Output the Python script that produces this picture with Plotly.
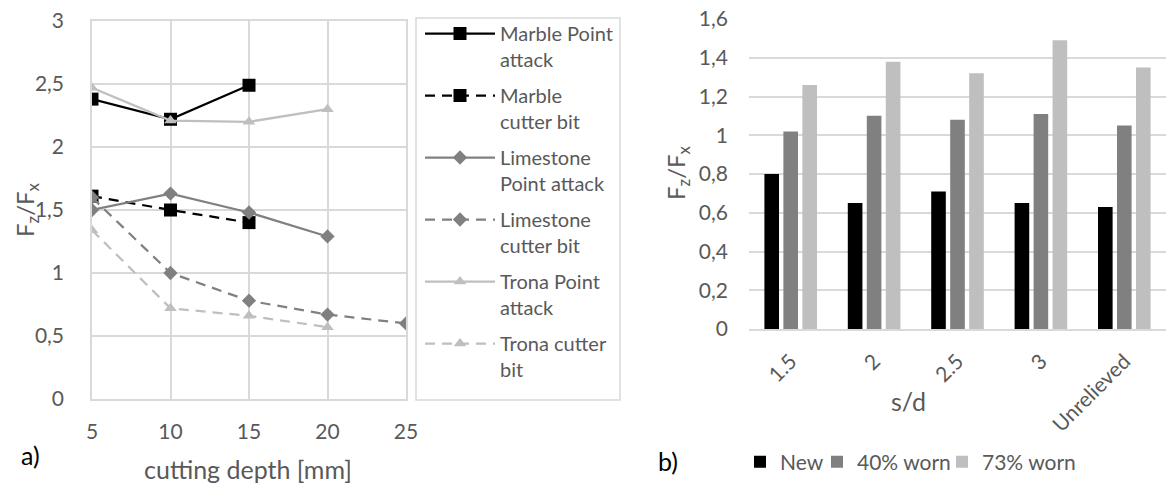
import plotly.graph_objects as go

# ---------------- data: panel a) ----------------
depth_marble = [5, 10, 15]
marble_point = [2.38, 2.22, 2.49]
marble_cutter = [1.61, 1.50, 1.40]
depth_lime_point = [5, 10, 15, 20]
limestone_point = [1.50, 1.63, 1.48, 1.29]
depth_lime_cutter = [5, 10, 15, 20, 25]
limestone_cutter = [1.60, 1.00, 0.78, 0.67, 0.60]
depth_trona = [5, 10, 15, 20]
trona_point = [2.47, 2.21, 2.20, 2.30]
trona_cutter = [1.34, 0.72, 0.66, 0.57]

# ---------------- data: panel b) ----------------
sd_labels = ["1.5", "2", "2.5", "3", "Unrelieved"]
bit_new = [0.80, 0.65, 0.71, 0.65, 0.63]
bit_worn40 = [1.02, 1.10, 1.08, 1.11, 1.05]
bit_worn73 = [1.26, 1.38, 1.32, 1.49, 1.35]

W, H = 1166, 484
FONT = "Lato"
TXT = "#595959"
GRID = "#d9d9d9"
BLACK, DARK, LIGHT = "#000000", "#808080", "#bfbfbf"
DASH = "10px,7px"

def px(x):
    return x / W

def py(y):
    return 1 - y / H

fig = go.Figure()

line_series = [
    ("Marble Point<br>attack", depth_marble, marble_point, BLACK, "solid", "square", 13),
    ("Marble<br>cutter bit", depth_marble, marble_cutter, BLACK, DASH, "square", 13),
    ("Limestone<br>Point attack", depth_lime_point, limestone_point, DARK, "solid", "diamond", 11),
    ("Limestone<br>cutter bit", depth_lime_cutter, limestone_cutter, DARK, DASH, "diamond", 11),
    ("Trona Point<br>attack", depth_trona, trona_point, LIGHT, "solid", "triangle-up", 11),
    ("Trona cutter<br>bit", depth_trona, trona_cutter, LIGHT, DASH, "triangle-up", 11),
]
for i, (name, xs, ys, col, dash, sym, size) in enumerate(line_series):
    fig.add_trace(go.Scatter(
        x=xs, y=ys, name=name, mode="lines+markers",
        line=dict(color=col, width=2.25, dash=dash),
        marker=dict(color=col, symbol=sym, size=size),
        xaxis="x", yaxis="y", legend="legend", legendgroup=f"g{i}",
    ))

for name, vals, col, lw in [("New", bit_new, BLACK, 32), ("40% worn", bit_worn40, DARK, 80),
                            ("73% worn", bit_worn73, LIGHT, 100)]:
    fig.add_trace(go.Bar(
        x=sd_labels, y=vals, name=name, marker=dict(color=col, line=dict(width=0)),
        xaxis="x2", yaxis="y2", legend="legend2", legendwidth=lw,
    ))

axis_common = dict(
    tickfont=dict(family=FONT, size=21, color=TXT),
    zeroline=False, ticks="", automargin=False,
)

def note(text, x, y, size, color=TXT, angle=0):
    return dict(text=text, x=px(x), y=py(y), xref="paper", yref="paper",
                xanchor="center", yanchor="middle", textangle=angle,
                showarrow=False, font=dict(family=FONT, size=size, color=color))

fig.update_layout(
    template="none",
    width=W, height=H,
    margin=dict(l=0, r=0, t=0, b=0, autoexpand=False),
    paper_bgcolor="white", plot_bgcolor="white",
    separators=", ",
    font=dict(family=FONT, color=TXT),
    barmode="group", bargap=0.317, bargroupgap=0.23,
    xaxis=dict(
        domain=[px(92), px(406)], range=[5, 25], tick0=5, dtick=5,
        showgrid=True, gridcolor=GRID, gridwidth=1.5,
        showline=True, mirror=True, linecolor=GRID, linewidth=1.5,
        anchor="y", ticklabelstandoff=13, **axis_common,
    ),
    yaxis=dict(
        domain=[py(399), py(21)], range=[0, 3], tick0=0, dtick=0.5,
        showgrid=True, gridcolor=GRID, gridwidth=1.5,
        showline=True, mirror=True, linecolor=GRID, linewidth=1.5,
        anchor="x", ticklabelstandoff=22, **axis_common,
    ),
    xaxis2=dict(
        domain=[px(749), 1.0], type="category",
        showgrid=False, showline=True, linecolor=GRID, linewidth=1.5,
        tickangle=-45, anchor="y2", ticklabelstandoff=10, **axis_common,
    ),
    yaxis2=dict(
        domain=[py(329), py(19)], range=[0, 1.6], tick0=0, dtick=0.2,
        showgrid=True, gridcolor=GRID, gridwidth=1.5, showline=False,
        anchor="x2", ticklabelstandoff=20, **axis_common,
    ),
    legend=dict(
        x=px(420), y=py(14), xanchor="left", yanchor="top",
        bgcolor="rgba(0,0,0,0)", borderwidth=0,
        font=dict(family=FONT, size=20, color=TXT),
        tracegroupgap=7, valign="top", itemwidth=70,
    ),
    legend2=dict(
        orientation="h", x=px(740), y=py(462), xanchor="left", yanchor="middle",
        bgcolor="rgba(0,0,0,0)", borderwidth=0,
        font=dict(family=FONT, size=21, color=TXT),
        itemwidth=30,
    ),
    showlegend=True,
    shapes=[dict(
        type="rect", xref="paper", yref="paper",
        x0=px(416), x1=px(620), y0=py(400), y1=py(18),
        line=dict(color=GRID, width=1.5), fillcolor="rgba(0,0,0,0)", layer="below",
    )],
    annotations=[
        note("F<sub>z</sub>/F<sub>x</sub>", 26, 210, 24, angle=-90),
        note("cutting depth [mm]", 248, 469, 25),
        note("a)", 30, 455, 25, color="#000000"),
        note("F<sub>z</sub>/F<sub>x</sub>", 677, 173, 24, angle=-90),
        note("s/d", 908, 401, 25),
        note("b)", 668, 461, 25, color="#000000"),
    ],
)

fig.write_html("out.html")
